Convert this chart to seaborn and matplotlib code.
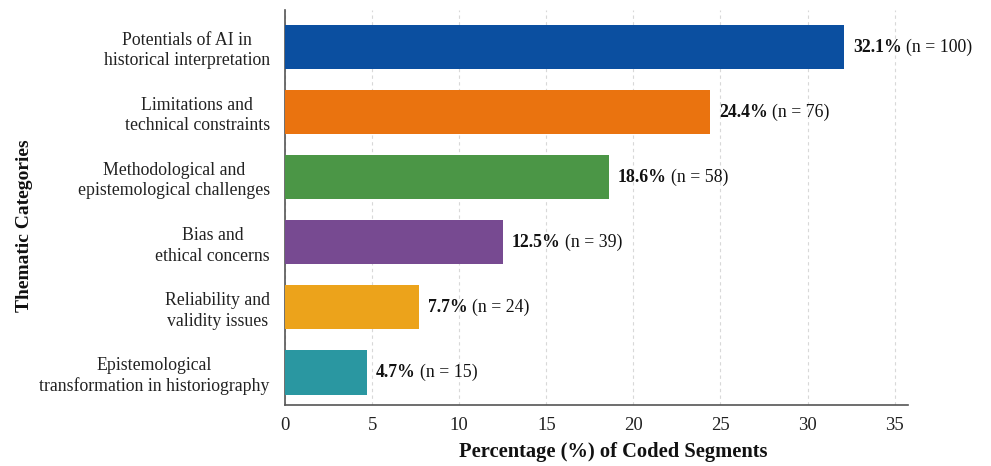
import matplotlib
matplotlib.use("Agg")
import matplotlib.pyplot as plt
import seaborn as sns
import pandas as pd

categories = [
    "Potentials of AI in\nhistorical interpretation",
    "Limitations and\ntechnical constraints",
    "Methodological and\nepistemological challenges",
    "Bias and\nethical concerns",
    "Reliability and\nvalidity issues",
    "Epistemological\ntransformation in historiography",
]
percentages = [32.1, 24.4, 18.6, 12.5, 7.7, 4.7]
counts = [100, 76, 58, 39, 24, 15]
colors = ["#0b4fa0", "#ea730f", "#4b9646", "#774a91", "#eca31b", "#2a97a1"]
xticks = [0, 5, 10, 15, 20, 25, 30, 35]

df = pd.DataFrame({"category": categories, "pct": percentages})

sns.set_theme(style="white")
plt.rcParams["font.family"] = ["Liberation Serif", "DejaVu Serif"]

fig = plt.figure(figsize=(9.91, 4.66), dpi=100)
ax = fig.add_axes([0.2876, 0.131, 0.6284, 0.8475])

sns.barplot(data=df, y="category", x="pct", hue="category", palette=colors,
            orient="h", width=0.68, legend=False, ax=ax, zorder=3,
            edgecolor="none", saturation=1)

ax.set_xlim(0, 35.75)
ax.set_ylim(5.5, -0.57)
ax.set_xticks(xticks)
ax.set_xticklabels([str(t) for t in xticks], fontsize=13.5)
ax.tick_params(axis="x", length=0, pad=9, colors="#222222")
ax.tick_params(axis="y", length=0, pad=11)
for lab in ax.get_yticklabels():
    lab.set_fontsize(12.8)
    lab.set_multialignment("center")
    lab.set_color("#222222")
    lab.set_linespacing(1.25)

ax.grid(axis="x", linestyle=(0, (3, 3)), color="#d8d8d8", linewidth=0.8, zorder=0)
ax.grid(axis="y", visible=False)
ax.set_axisbelow(True)

for s in ["top", "right"]:
    ax.spines[s].set_visible(False)
for s in ["left", "bottom"]:
    ax.spines[s].set_color("#555555")
    ax.spines[s].set_linewidth(1.2)

ax.set_xlabel("Percentage (%) of Coded Segments", fontsize=14.8, fontweight="bold",
              color="#111111")
ax.set_ylabel("Thematic Categories", fontsize=14, fontweight="bold",
              color="#111111")
ax.xaxis.set_label_coords(0.527, -0.093)
ax.yaxis.set_label_coords(-0.405, 0.453)

for i, (p, n) in enumerate(zip(percentages, counts)):
    tb = ax.annotate(f"{p}%", xy=(p, i), xytext=(6.5, 0), textcoords="offset points",
                     va="center", ha="left", fontsize=12.8, fontweight="bold",
                     color="#111111")
    ax.annotate(f"(n = {n})", xy=(1, 0.5), xycoords=tb, xytext=(3, 0),
                textcoords="offset points", va="center", ha="left",
                fontsize=12.8, color="#111111")

fig.savefig("out.png", dpi=100)
